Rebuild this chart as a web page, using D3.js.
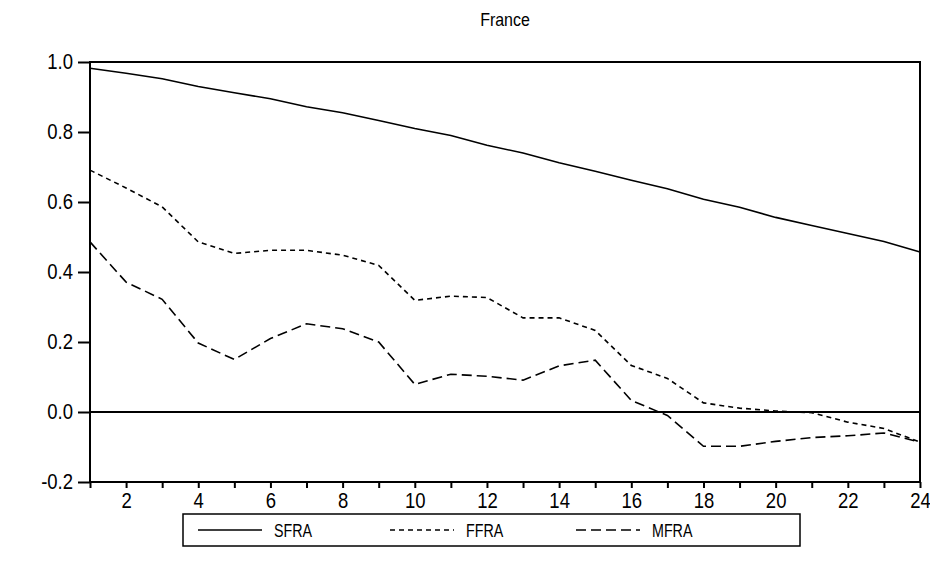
<!DOCTYPE html>
<html><head><meta charset="utf-8">
<script src="https://cdn.jsdelivr.net/npm/d3@7"></script>
<style>body{margin:0;background:#fff}svg{display:block;font-family:Arial,"Liberation Sans",sans-serif}</style>
</head><body><svg id="c" width="930" height="577"></svg>
<script>
const periods = d3.range(1, 25);
const SFRA = [0.982,0.968,0.952,0.930,0.912,0.895,0.872,0.855,0.833,0.810,0.790,0.762,0.740,0.712,0.688,0.662,0.638,0.608,0.585,0.556,0.533,0.510,0.487,0.457];
const FFRA = [0.691,0.640,0.586,0.486,0.453,0.462,0.462,0.448,0.419,0.319,0.331,0.327,0.269,0.269,0.233,0.133,0.096,0.026,0.011,0.003,-0.002,-0.029,-0.047,-0.086];
const MFRA = [0.486,0.371,0.322,0.197,0.150,0.210,0.252,0.238,0.200,0.079,0.108,0.102,0.091,0.132,0.148,0.033,-0.010,-0.098,-0.098,-0.084,-0.073,-0.068,-0.060,-0.086];
const yTicks = [-0.2,0.0,0.2,0.4,0.6,0.8,1.0];
const xTicks = [2,4,6,8,10,12,14,16,18,20,22,24];
const seriesNames = ["SFRA","FFRA","MFRA"];
const dashes = [null,"5,4","10,5"];

const svg = d3.select("#c");
const L=90,R=920,T=62,B=482;
const x = d3.scaleLinear().domain([1,24]).range([L,R]);
const y = d3.scaleLinear().domain([-0.2,1.0]).range([B,T]);
const fmt = d => d3.format(".1f")(d).replace("−","-");
const SY = 1.18;

svg.append("text").attr("transform",`translate(${(L+R)/2},26) scale(1,${SY})`).attr("text-anchor","middle")
  .attr("font-size",16).text("France");

// y axis
const ya = svg.append("g").attr("transform",`translate(${L},0)`)
  .call(d3.axisLeft(y).tickValues(yTicks).tickFormat(fmt).tickSize(12).tickPadding(5));
ya.select(".domain").remove();
ya.selectAll("line").attr("stroke","#000").attr("stroke-width",2);
ya.selectAll("text").attr("font-size",18.5).attr("fill","#000")
  .attr("font-family","Arial,'Liberation Sans',sans-serif").attr("transform",`scale(1,${SY})`);

// x axis
const xa = svg.append("g").attr("transform",`translate(0,${B})`)
  .call(d3.axisBottom(x).tickValues(d3.range(1,25)).tickFormat(d=>xTicks.includes(d)?d:"").tickSize(6).tickPadding(3));
xa.select(".domain").remove();
xa.selectAll("line").attr("stroke","#000").attr("stroke-width",2);
xa.selectAll("text").attr("font-size",18.5).attr("fill","#000")
  .attr("font-family","Arial,'Liberation Sans',sans-serif").attr("transform",`scale(1,${SY})`);

// zero line
svg.append("line").attr("x1",L).attr("x2",R).attr("y1",y(0)).attr("y2",y(0)).attr("stroke","#000").attr("stroke-width",2);

const line = d3.line().x((d,i)=>x(periods[i])).y(d=>y(d));
[SFRA,FFRA,MFRA].forEach((s,k)=>{
  svg.append("path").attr("d",line(s)).attr("fill","none").attr("stroke","#000")
    .attr("stroke-width",1.6).attr("stroke-dasharray",dashes[k]);
});

// frame
svg.append("rect").attr("x",L).attr("y",T).attr("width",R-L).attr("height",B-T)
  .attr("fill","none").attr("stroke","#000").attr("stroke-width",2);

// legend
const lg = svg.append("g");
lg.append("rect").attr("x",183).attr("y",514).attr("width",617).attr("height",32)
  .attr("fill","none").attr("stroke","#000").attr("stroke-width",1.5);
const lx = [198,390,576];
seriesNames.forEach((n,k)=>{
  lg.append("line").attr("x1",lx[k]).attr("x2",lx[k]+64).attr("y1",530).attr("y2",530)
    .attr("stroke","#000").attr("stroke-width",1.6).attr("stroke-dasharray",dashes[k]);
  lg.append("text").attr("transform",`translate(${lx[k]+76},537) scale(0.84,1.05)`).attr("font-size",17).text(n);
});
</script></body></html>
